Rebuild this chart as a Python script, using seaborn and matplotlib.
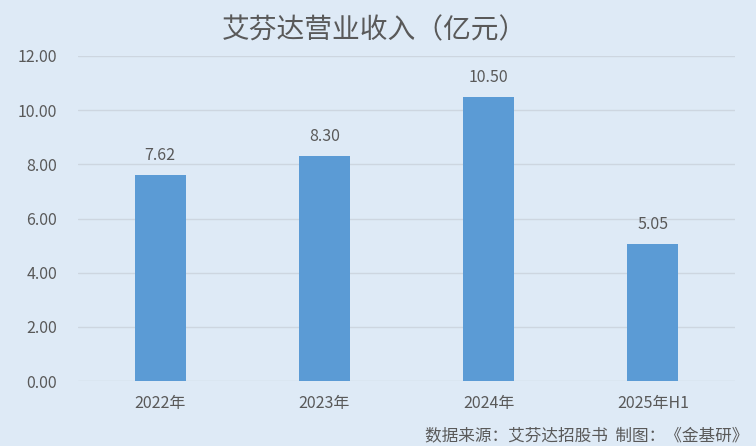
import matplotlib
matplotlib.use('Agg')
import matplotlib.pyplot as plt
import seaborn as sns
import pandas as pd

years = ['2022年', '2023年', '2024年', '2025年H1']
revenue = [7.62, 8.30, 10.50, 5.05]
y_ticks = [0, 2, 4, 6, 8, 10, 12]

BG = '#DEEAF6'
BAR = '#5B9BD5'
TXT = '#595959'

sns.set_theme(style='white')
plt.rcParams['font.family'] = ['Noto Sans CJK SC', 'DejaVu Sans']

df = pd.DataFrame({'year': years, 'revenue': revenue})

fig = plt.figure(figsize=(7.56, 4.46), dpi=100, facecolor=BG)
ax = fig.add_axes([78 / 756, 1 - 381 / 446, 657 / 756, 325 / 446])
ax.set_facecolor(BG)

sns.barplot(data=df, x='year', y='revenue', color=BAR, width=0.31,
            saturation=1, linewidth=0, ax=ax, zorder=3)

ax.set_ylim(0, 12)
ax.set_xlim(-0.5, 3.5)
ax.set_yticks(y_ticks)
ax.set_yticklabels([f'{v:.2f}' for v in y_ticks])
ax.yaxis.grid(True, color='#CDD6E0', linewidth=1, zorder=0)
ax.set_axisbelow(True)
for s in ax.spines.values():
    s.set_visible(False)
ax.tick_params(axis='y', length=0, pad=15, labelsize=11.5, labelcolor=TXT)
ax.tick_params(axis='x', length=0, pad=10, labelsize=11.5, labelcolor=TXT)
ax.set_xlabel('')
ax.set_ylabel('')

for i, v in enumerate(revenue):
    ax.annotate(f'{v:.2f}', (i, v), xytext=(0, 8), textcoords='offset points',
                ha='center', va='bottom', fontsize=11.5, color=TXT)

fig.text(374 / 756, 1 - 30 / 446, '艾芬达营业收入（亿元）', ha='center', va='center',
         fontsize=20, color=TXT)
fig.text(748 / 756, 1 - 436 / 446, '数据来源：艾芬达招股书  制图：《金基研》',
         ha='right', va='center', fontsize=12, color=TXT)

fig.savefig('out.png', dpi=100, facecolor=BG)
